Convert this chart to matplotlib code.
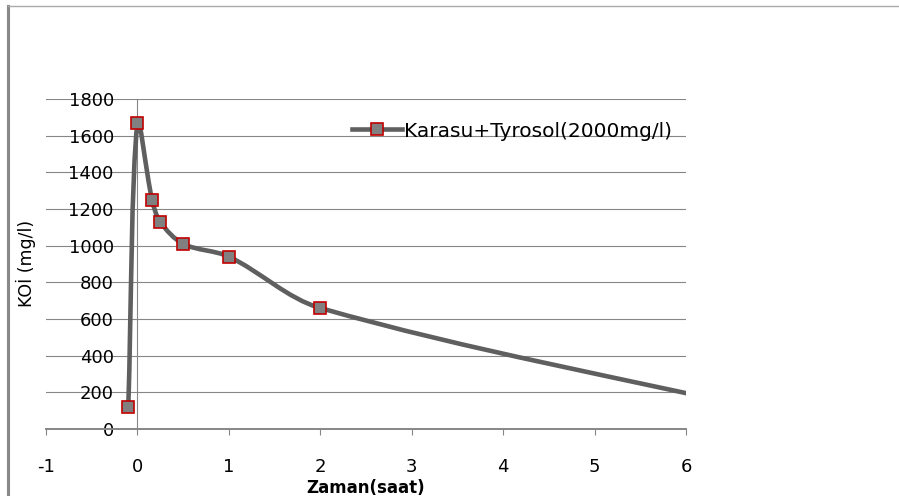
import matplotlib
matplotlib.use('Agg')
import matplotlib.pyplot as plt
import numpy as np
from matplotlib.path import Path
from matplotlib.patches import PathPatch
from matplotlib.lines import Line2D

# Veriler
zaman = [-0.1, 0.0, 0.16, 0.25, 0.5, 1.0, 2.0, 7.0]
koi = [120, 1670, 1250, 1130, 1010, 940, 660, 85]
etiket = 'Karasu+Tyrosol(2000mg/l)'
x_ticks = [-1, 0, 1, 2, 3, 4, 5, 6]
y_ticks = [0, 200, 400, 600, 800, 1000, 1200, 1400, 1600, 1800]

plt.rcParams['font.family'] = ['DejaVu Sans']

fig = plt.figure(figsize=(8.99, 4.96), dpi=100)
ax = fig.add_axes([46/899, 1-429/496, 640/899, 330/496])
ax.set_xlim(-1, 6)
ax.set_ylim(0, 1800)

# Cerceve (grafik alani kenarlari)
fig.add_artist(Line2D([8/899, 8/899], [0, 1-6/496], color='#888888', lw=2.2))
fig.add_artist(Line2D([8/899, 1], [1-6/496, 1-6/496], color='#aaaaaa', lw=1.0))

# Yumusatilmis cizgi: kontrol noktalari ekran olceginde hesaplanir
sx = 640 / 7.0
sy = 330 / 1800.0
P = np.column_stack([np.array(zaman) * sx, np.array(koi) * sy])
n = len(P)
L = np.hypot(*np.diff(P, axis=0).T)
verts = [P[0]]
codes = [Path.MOVETO]
for i in range(n-1):
    if i == 0:
        c1 = P[i] + (P[i+1] - P[i]) / 3
    else:
        t = P[i+1] - P[i-1]
        c1 = P[i] + t * L[i] / (L[i-1] + L[i]) / 3
    if i+1 == n-1:
        c2 = P[i+1] - (P[i+1] - P[i]) / 3
    else:
        t = P[i+2] - P[i]
        c2 = P[i+1] - t * L[i] / (L[i] + L[i+1]) / 3
    verts += [c1, c2, P[i+1]]
    codes += [Path.CURVE4]*3
verts = np.array(verts) / [sx, sy]
patch = PathPatch(Path(verts, codes), facecolor='none', edgecolor='#5f5f5f',
                  lw=3.3, capstyle='round', joinstyle='round', zorder=3)
ax.add_patch(patch)
ax.plot(zaman, koi, ls='none', marker='s', ms=8.5, mfc='#808080',
        mec='#c00000', mew=1.2, zorder=4)

ax.set_xticks(x_ticks)
ax.set_yticks(y_ticks)
ax.set_xticklabels([str(v) for v in x_ticks])
ax.set_yticklabels([str(v) for v in y_ticks])

for s in ['top', 'right']:
    ax.spines[s].set_visible(False)
ax.spines['left'].set_position(('data', 0))
ax.spines['left'].set_color('#868686')
ax.spines['left'].set_linewidth(0.8)
ax.spines['bottom'].set_color('#868686')
ax.spines['bottom'].set_linewidth(1.4)
ax.grid(axis='y', color='#868686', lw=0.8)
ax.set_axisbelow(True)

ax.tick_params(axis='y', length=0, pad=17, labelsize=13)
ax.tick_params(axis='x', direction='out', length=4, width=0.8, color='#868686',
               pad=17, labelsize=13)

ax.set_xlabel('Zaman(saat)', fontsize=12, fontweight='bold', labelpad=2)
fig.text(26/899, 1-263/496, 'KOİ (mg/l)', rotation=90, fontsize=12.5,
         ha='center', va='center')

handle = Line2D([], [], color='#5f5f5f', lw=3.3, marker='s', ms=8.5,
                mfc='#808080', mec='#c00000', mew=1.2)
ax.legend([handle], [etiket], loc='center left', bbox_to_anchor=(0.465, 0.903),
          frameon=False, fontsize=14.5, handlelength=2.5, handletextpad=0.12,
          borderaxespad=0)

fig.savefig('out.png', dpi=100)
